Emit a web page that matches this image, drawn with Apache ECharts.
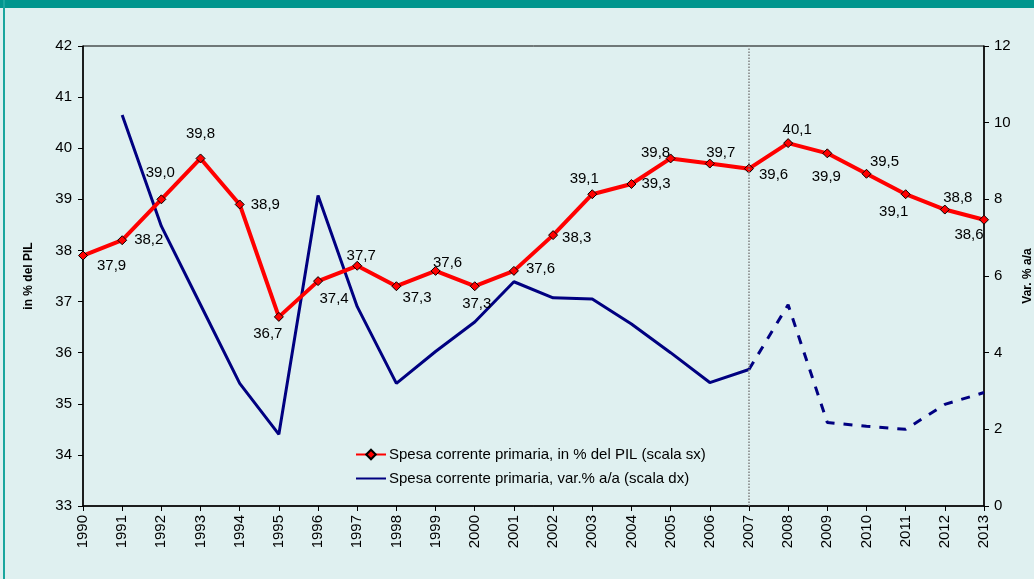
<!DOCTYPE html>
<html>
<head>
<meta charset="utf-8">
<script src="https://cdn.jsdelivr.net/npm/echarts@6/dist/echarts.min.js"></script>
<style>
  html, body { margin:0; padding:0; background:#dff0f0; }
  #chart { width:1034px; height:579px; }
</style>
</head>
<body>
<div id="chart"></div>
<script>
// categories and values
let years = ['1990','1991','1992','1993','1994','1995','1996','1997','1998','1999','2000','2001',
    '2002','2003','2004','2005','2006','2007','2008','2009','2010','2011','2012','2013'];
let pilShare = [37.9,38.2,39.0,39.8,38.9,36.7,37.4,37.7,37.3,37.6,37.3,37.6,
    38.3,39.1,39.3,39.8,39.7,39.6,40.1,39.9,39.5,39.1,38.8,38.6];
let varHist = [null,10.2,7.3,5.25,3.2,1.87,8.1,5.2,3.2,4.03,4.8,5.85,
    5.43,5.4,4.75,4.0,3.22,3.56,null,null,null,null,null,null];
let varProj = [null,null,null,null,null,null,null,null,null,null,null,null,
    null,null,null,null,null,3.56,5.25,2.18,2.08,2.0,2.65,2.96];
// label placement for each red point: [position, dx, dy]
let labelPos = [
    ['right',4,10],['right',2,0],['top',-1,-9],['top',0,-7],['right',1,0],['bottom',-11,-1],
    ['bottom',16,0],['top',4,8],['right',-4,12],['top',12,9],['bottom',2,0],['right',2,-2],
    ['right',-1,3],['top',-8,2],['right',0,0],['top',-15,12],['top',11,7],['right',0,6],
    ['top',9,4],['bottom',-1,6],['top',18,6],['bottom',-12,0],['top',13,6],['bottom',-15,-2]
];

let myChart = echarts.init(document.getElementById('chart'));

let redData = pilShare.map((v,i)=>({
    value:v,
    label:{
        show:true,
        position:labelPos[i][0],
        offset:[labelPos[i][1],labelPos[i][2]],
        formatter:()=>v.toFixed(1).replace('.',','),
        color:'#000',
        fontSize:15,
        fontFamily:'Liberation Sans'
    }
}));

let option = {
    animation:false,
    textStyle:{ fontFamily:'Liberation Sans' },
    graphic:[
        { type:'rect', left:0, top:0, shape:{ width:1034, height:8 }, style:{ fill:'#00968e' } },
        { type:'rect', left:3, top:0, shape:{ width:2, height:579 }, style:{ fill:'#1aa69e' } }
    ],
    grid:{
        left:83, right:50, top:46, bottom:73,
        containLabel:false,
        outerBoundsMode:'none',
        show:true, borderColor:'#000', borderWidth:1
    },
    legend:{
        left:350,
        top:442,
        orient:'vertical',
        itemGap:9,
        itemWidth:30,
        itemHeight:12,
        data:[
            { name:'Spesa corrente primaria, in % del PIL (scala sx)' },
            { name:'Spesa corrente primaria, var.% a/a (scala dx)', itemStyle:{ opacity:0 } }
        ],
        textStyle:{ color:'#000', fontSize:15, fontFamily:'Liberation Sans', padding:[0,0,0,-2] },
        selectedMode:false
    },
    xAxis:{
        type:'category',
        boundaryGap:false,
        data:years,
        axisLine:{ lineStyle:{ color:'#000', width:1.5 } },
        axisTick:{ show:true, length:5, lineStyle:{ color:'#000' } },
        axisLabel:{ rotate:90, color:'#000', fontSize:15, margin:9 },
        splitLine:{ show:false }
    },
    yAxis:[
        {
            type:'value',
            min:33, max:42, interval:1,
            name:'in % del PIL',
            nameLocation:'middle',
            nameGap:48,
            nameTextStyle:{ fontWeight:'bold', fontSize:12, color:'#000' },
            axisLine:{ show:true, lineStyle:{ color:'#000', width:1.5 } },
            axisTick:{ show:true, length:5, lineStyle:{ color:'#000' } },
            axisLabel:{ color:'#000', fontSize:15, margin:11 },
            splitLine:{ show:false }
        },
        {
            type:'value',
            min:0, max:12, interval:2,
            name:'Var. % a/a',
            nameLocation:'middle',
            nameGap:38,
            nameTextStyle:{ fontWeight:'bold', fontSize:12, color:'#000' },
            axisLine:{ show:true, lineStyle:{ color:'#000', width:1.5 } },
            axisTick:{ show:true, length:5, lineStyle:{ color:'#000' } },
            axisLabel:{ color:'#000', fontSize:15, margin:10 },
            splitLine:{ show:false }
        }
    ],
    series:[
        {
            name:'Spesa corrente primaria, var.% a/a (scala dx)',
            type:'line',
            yAxisIndex:1,
            data:varHist,
            symbol:'none',
            lineStyle:{ color:'#000080', width:3 },
            itemStyle:{ color:'#000080' },
            z:2,
            markLine:{
                silent:true,
                symbol:'none',
                label:{ show:false },
                lineStyle:{ color:'#808080', type:'dotted', width:1.5 },
                data:[{ xAxis:'2007' }]
            }
        },
        {
            name:'proiezione',
            type:'line',
            yAxisIndex:1,
            data:varProj,
            symbol:'none',
            lineStyle:{ color:'#000080', width:3, type:[9,9] },
            z:2
        },
        {
            name:'Spesa corrente primaria, in % del PIL (scala sx)',
            type:'line',
            yAxisIndex:0,
            data:redData,
            symbol:'diamond',
            symbolSize:9,
            showAllSymbol:true,
            lineStyle:{ color:'#ff0000', width:4 },
            itemStyle:{ color:'#ff0000', borderColor:'#000', borderWidth:1 },
            z:3
        }
    ]
};
myChart.setOption(option);
</script>
</body>
</html>
